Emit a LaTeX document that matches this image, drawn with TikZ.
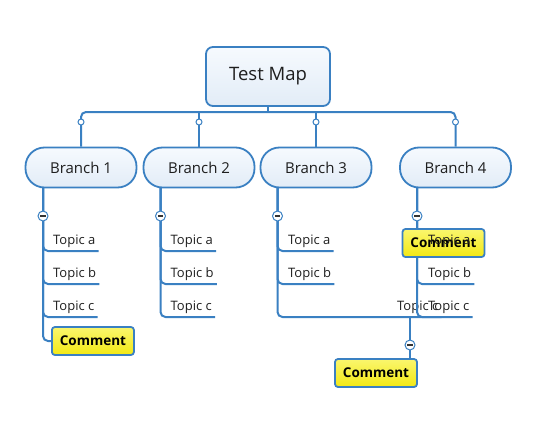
\documentclass[tikz,border=0pt]{standalone}
\usepackage{fontspec}
\setmainfont{Open Sans}
\definecolor{lineblue}{RGB}{58,128,194}
\definecolor{txt}{RGB}{30,30,30}
\definecolor{boxtop}{RGB}{246,250,254}
\definecolor{boxbot}{RGB}{226,236,247}
\definecolor{yeltop}{RGB}{250,246,110}
\definecolor{yelbot}{RGB}{242,232,20}
\tikzset{
  conn/.style={draw=lineblue, line width=2pt, rounded corners=5pt},
  rootbox/.style={draw=lineblue, line width=1.8pt, rounded corners=7pt, top color=boxtop, bottom color=boxbot,
    minimum width=124pt, minimum height=59pt, font=\fontsize{18.5}{22}\selectfont, text=txt},
  branchbox/.style={draw=lineblue, line width=1.8pt, rounded corners=19pt, top color=boxtop, bottom color=boxbot,
    minimum width=111pt, minimum height=40pt, font=\fontsize{15}{18}\selectfont, text=txt},
  topic/.style={anchor=south west, inner xsep=3pt, inner ysep=3pt, font=\fontsize{13}{15}\selectfont, text=txt},
  commentbox/.style={draw=lineblue, line width=1.8pt, rounded corners=3pt, top color=yeltop, bottom color=yelbot,
    minimum width=82pt, minimum height=28pt, inner sep=0pt, font=\fontsize{13.5}{15}\bfseries\selectfont, text=black},
  collapse/.style={circle, draw=lineblue, line width=1pt, fill=white, minimum size=10pt, inner sep=0pt,
    path picture={\draw[line width=1.2pt, black!80] ([xshift=-2.6pt]path picture bounding box.center) -- ([xshift=2.6pt]path picture bounding box.center);}},
  knob/.style={circle, draw=lineblue, line width=1pt, fill=white, minimum size=6pt, inner sep=0pt},
}
\begin{document}
\begin{tikzpicture}[x=1pt, y=-1pt]
\useasboundingbox (0,0) rectangle (541,434);
% nodes
\node[rootbox] (root) at (268,76.5) {Test Map};
\node[branchbox] (b1) at (81,167.5) {Branch 1};
\node[branchbox] (b2) at (199,167.5) {Branch 2};
\node[branchbox] (b3) at (316,167.5) {Branch 3};
\node[branchbox] (b4) at (455.5,167.5) {Branch 4};
\coordinate (bar) at (268,112);
\coordinate (v1) at (43,188);
\coordinate (v2) at (160.5,188);
\coordinate (v3) at (277.5,188);
\coordinate (v4) at (417,188);
\coordinate (j3) at (410,317);
% topics
\node[topic] (t1a) at (50,251) {Topic a};
\node[topic] (t1b) at (50,284) {Topic b};
\node[topic] (t1c) at (50,317) {Topic c};
\node[topic] (t2a) at (167.5,251) {Topic a};
\node[topic] (t2b) at (167.5,284) {Topic b};
\node[topic] (t2c) at (167.5,317) {Topic c};
\node[topic] (t3a) at (285,251) {Topic a};
\node[topic] (t3b) at (285,284) {Topic b};
\node[topic] (t3c) at (394,317) {Topic c};
\node[topic] (t4b) at (425,284) {Topic b};
\node[topic] (t4c) at (425,317) {Topic c};
% connectors
\draw[conn] (root.south) -- (bar);
\draw[conn] (b1.north) -- (b1.north |- bar) -- (b4.north |- bar) -- (b4.north);
\draw[conn] (b2.north |- bar) -- (b2.north);
\draw[conn] (b3.north |- bar) -- (b3.north);
\coordinate (c1w) at (51,341);
\draw[conn] (v1) |- (c1w);
\draw[conn] (v1) |- (t1a.south east);
\draw[conn] (v1) |- (t1b.south east);
\draw[conn] (v1) |- (t1c.south east);
\draw[conn] (v2) |- (t2a.south east);
\draw[conn] (v2) |- (t2b.south east);
\draw[conn] (v2) |- (t2c.south east);
\draw[conn] (v3) |- (t3a.south east);
\draw[conn] (v3) |- (t3b.south east);
\draw[conn] (v3) |- (t3c.south east);
\draw[conn] (v4) |- (425,251) -- (474,251);
\draw[conn] (v4) |- (t4b.south east);
\draw[conn] (v4) |- (t4c.south east);
\draw[conn] (j3) -- (410,359);
% comments
\node[commentbox, anchor=west] (c1) at (c1w) {Comment};
\node[commentbox] (c3) at (376,373) {Comment};
\node[commentbox] (c4) at (443.5,243) {Comment};
\node[topic] (t4a) at (425,251) {Topic a};
% knobs
\foreach \x in {81,199,316,455.5} \node[knob] at (\x,122) {};
\node[collapse] at (43,216) {};
\node[collapse] at (160.5,216) {};
\node[collapse] at (277.5,216) {};
\node[collapse] at (417,216) {};
\node[collapse] at (410,345) {};
\end{tikzpicture}
\end{document}
